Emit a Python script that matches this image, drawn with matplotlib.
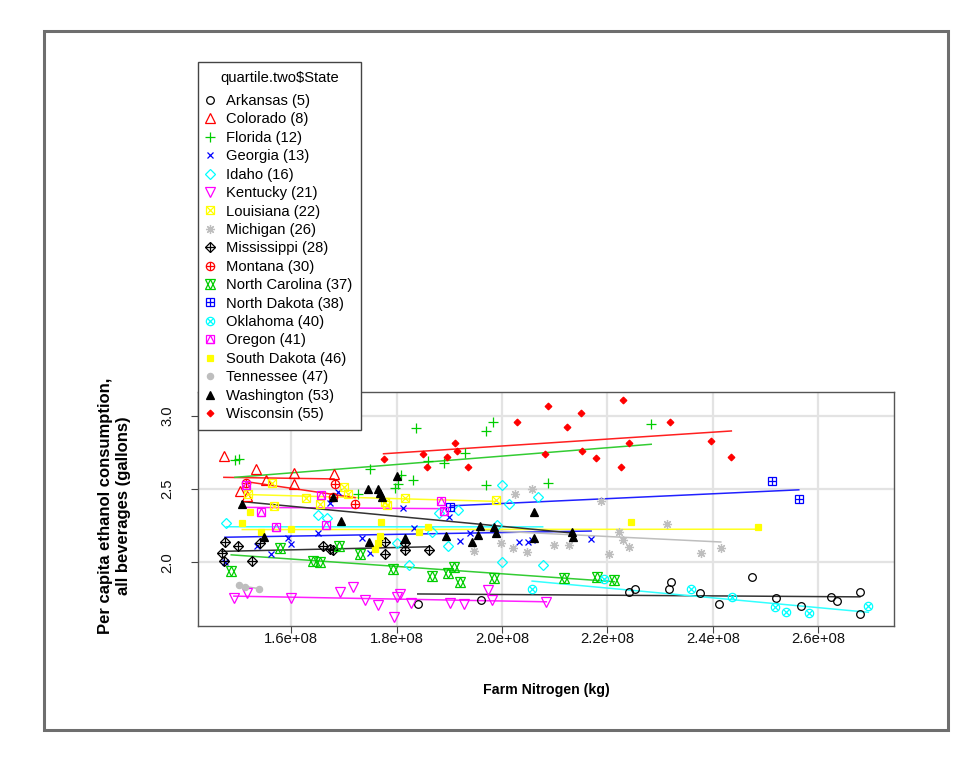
import numpy as np
import matplotlib
matplotlib.use('Agg')
import matplotlib.pyplot as plt
from matplotlib.patches import Rectangle

plt.rcParams['font.family'] = ['Liberation Sans', 'DejaVu Sans']

# ---------------- data (x in units of 1e8 kg, y in gallons) ----------------
states = ['Arkansas', 'Colorado', 'Florida', 'Georgia', 'Idaho', 'Kentucky',
          'Louisiana', 'Michigan', 'Mississippi', 'Montana', 'North Carolina',
          'North Dakota', 'Oklahoma', 'Oregon', 'South Dakota', 'Tennessee',
          'Washington', 'Wisconsin']
codes = [5, 8, 12, 13, 16, 21, 22, 26, 28, 30, 37, 38, 40, 41, 46, 47, 53, 55]

ark_x = [1.840, 1.960, 2.241, 2.252, 2.317, 2.320, 2.376, 2.411, 2.475, 2.520,
         2.567, 2.624, 2.636, 2.679, 2.679]
ark_y = [1.715, 1.742, 1.797, 1.816, 1.821, 1.865, 1.790, 1.715, 1.903, 1.753,
         1.700, 1.760, 1.734, 1.799, 1.650]

col_x = [1.472, 1.533, 1.605, 1.606, 1.552, 1.503, 1.516, 1.681]
col_y = [2.726, 2.637, 2.610, 2.535, 2.559, 2.487, 2.453, 2.600]

fla_x = [1.493, 1.500, 1.727, 1.749, 1.797, 1.803, 1.808, 1.830, 1.836, 1.860,
         1.889, 1.930, 1.969, 1.970, 1.983, 2.087, 2.283]
fla_y = [2.699, 2.709, 2.467, 2.636, 2.508, 2.535, 2.596, 2.562, 2.919, 2.689,
         2.676, 2.745, 2.899, 2.528, 2.960, 2.544, 2.948]

geo_x = [1.474, 1.535, 1.561, 1.594, 1.600, 1.650, 1.673, 1.689, 1.734, 1.749,
         1.812, 1.832, 1.899, 1.921, 1.939, 2.032, 2.049, 2.057, 2.169]
geo_y = [2.002, 2.108, 2.060, 2.166, 2.122, 2.198, 2.405, 2.482, 2.166, 2.061,
         2.371, 2.236, 2.311, 2.143, 2.200, 2.137, 2.141, 2.149, 2.159]

ida_x = [1.477, 1.650, 1.667, 1.800, 1.823, 1.867, 1.880, 1.897, 1.917, 1.990,
         1.999, 2.013, 1.999, 2.069, 2.077]
ida_y = [2.266, 2.323, 2.306, 2.130, 1.984, 2.207, 2.337, 2.111, 2.357, 2.255,
         2.531, 2.400, 2.004, 2.446, 1.980]

ken_x = [1.491, 1.515, 1.599, 1.693, 1.717, 1.740, 1.764, 1.795, 1.806, 1.800,
         1.828, 1.902, 1.927, 1.973, 1.981, 2.084]
ken_y = [1.756, 1.788, 1.756, 1.799, 1.831, 1.740, 1.705, 1.626, 1.783, 1.763,
         1.722, 1.720, 1.715, 1.814, 1.742, 1.732]

lou_x = [1.518, 1.564, 1.567, 1.628, 1.654, 1.700, 1.708, 1.777, 1.782, 1.816,
         1.988]
lou_y = [2.467, 2.545, 2.383, 2.437, 2.398, 2.516, 2.468, 2.415, 2.393, 2.441,
         2.428]

mic_x = [1.946, 1.997, 2.020, 2.024, 2.048, 2.056, 2.099, 2.127, 2.187, 2.202,
         2.222, 2.229, 2.240, 2.313, 2.377, 2.415]
mic_y = [2.077, 2.130, 2.096, 2.468, 2.070, 2.503, 2.118, 2.118, 2.417, 2.057,
         2.208, 2.149, 2.107, 2.263, 2.061, 2.100]

mis_x = [1.468, 1.473, 1.475, 1.498, 1.525, 1.541, 1.661, 1.673, 1.680, 1.778,
         1.777, 1.815, 1.815, 1.861]
mis_y = [2.061, 2.008, 2.137, 2.111, 2.008, 2.130, 2.111, 2.091, 2.084, 2.139,
         2.057, 2.135, 2.084, 2.087]

mon_x = [1.514, 1.683, 1.680, 1.721]
mon_y = [2.542, 2.533, 2.443, 2.400]

nca_x = [1.486, 1.579, 1.642, 1.654, 1.691, 1.730, 1.793, 1.867, 1.898, 1.908,
         1.920, 1.984, 2.118, 2.180, 2.213]
nca_y = [1.939, 2.096, 2.012, 2.005, 2.113, 2.060, 1.956, 1.904, 1.925, 1.970,
         1.864, 1.893, 1.893, 1.902, 1.879]

nda_x = [1.902, 2.512, 2.563]
nda_y = [2.380, 2.557, 2.430]

okl_x = [2.057, 2.194, 2.358, 2.437, 2.517, 2.539, 2.583, 2.695]
okl_y = [1.818, 1.886, 1.818, 1.765, 1.693, 1.663, 1.652, 1.702]

ore_x = [1.514, 1.542, 1.570, 1.657, 1.665, 1.885, 1.889]
ore_y = [2.528, 2.346, 2.241, 2.462, 2.255, 2.421, 2.347]

sda_x = [1.507, 1.521, 1.542, 1.599, 1.759, 1.764, 1.769, 1.770, 1.842, 1.860,
         2.244, 2.486]
sda_y = [2.266, 2.346, 2.207, 2.225, 2.093, 2.135, 2.180, 2.272, 2.207, 2.243,
         2.275, 2.243]

ten_x = [1.501, 1.512, 1.539]
ten_y = [1.843, 1.831, 1.821]

was_x = [1.506, 1.548, 1.680, 1.695, 1.746, 1.765, 1.769, 1.772, 1.800, 1.748,
         1.816, 1.894, 1.942, 1.955, 1.958, 1.985, 1.988, 2.060, 2.061, 2.133,
         2.135]
was_y = [2.398, 2.175, 2.443, 2.282, 2.499, 2.501, 2.471, 2.449, 2.589, 2.142,
         2.166, 2.180, 2.139, 2.189, 2.248, 2.243, 2.198, 2.342, 2.168, 2.207,
         2.173]

wis_x = [1.775, 1.850, 1.858, 1.896, 1.910, 1.914, 1.936, 2.029, 2.082, 2.088,
         2.124, 2.150, 2.151, 2.178, 2.230, 2.225, 2.241, 2.318, 2.396, 2.435]
wis_y = [2.709, 2.743, 2.651, 2.721, 2.813, 2.760, 2.649, 2.960, 2.742, 3.070,
         2.921, 3.018, 2.760, 2.710, 3.109, 2.651, 2.813, 2.960, 2.831, 2.719]

xs = [ark_x, col_x, fla_x, geo_x, ida_x, ken_x, lou_x, mic_x, mis_x, mon_x,
      nca_x, nda_x, okl_x, ore_x, sda_x, ten_x, was_x, wis_x]
ys = [ark_y, col_y, fla_y, geo_y, ida_y, ken_y, lou_y, mic_y, mis_y, mon_y,
      nca_y, nda_y, okl_y, ore_y, sda_y, ten_y, was_y, wis_y]

x_ticks = [1.6, 1.8, 2.0, 2.2, 2.4, 2.6]
x_ticklabels = ['1.6e+08', '1.8e+08', '2.0e+08', '2.2e+08', '2.4e+08', '2.6e+08']
y_ticks = [2.0, 2.5, 3.0]
y_ticklabels = ['2.0', '2.5', '3.0']

# ---------------- styles ----------------
palette = ['#000000', '#FF0000', '#00CD00', '#0000FF', '#00FFFF', '#FF00FF',
           '#FFFF00', '#BEBEBE']
line_palette = ['#333333', '#FF2020', '#33CC33', '#2020FF', '#33FFFF', '#FF20FF',
                '#FFFF20', '#BEBEBE']

# each R pch as list of (marker, size, filled)
pch = [
    [('o', 5.5, False)],                      # 1
    [('^', 6.5, False)],                      # 2
    [('+', 7.0, False)],                      # 3
    [('x', 5.0, False)],                      # 4
    [('D', 5.0, False)],                      # 5
    [('v', 6.5, False)],                      # 6
    [('s', 5.8, False), ('x', 5.2, False)],   # 7
    [((8, 2, 0), 6.5, False)],                # 8
    [('D', 4.6, False), ('+', 6.5, False)],   # 9
    [('o', 6.0, False), ('+', 6.0, False)],   # 10
    [('^', 6.5, False), ('v', 6.5, False)],   # 11
    [('s', 5.5, False), ('+', 5.5, False)],   # 12
    [('o', 6.0, False), ('x', 4.2, False)],   # 13
    [('s', 5.8, False), ('^', 5.8, False)],   # 14
    [('s', 5.0, True)],                       # 15
    [('o', 4.5, True)],                       # 16
    [('^', 6.0, True)],                       # 17
    [('D', 3.4, True)],                       # 18
]

W, H = 977, 766
fig = plt.figure(figsize=(W / 100, H / 100), dpi=100)
fig.patch.set_facecolor('white')

# outer frame
fig.patches.append(Rectangle((43.5 / W, 1 - 730 / H), (948 - 43.5) / W, (730 - 30.5) / H,
                             transform=fig.transFigure, fill=False,
                             edgecolor='#6e6e6e', linewidth=2.2))

ax = fig.add_axes([198.3 / W, 1 - 625.5 / H, (894 - 198.3) / W, (625.5 - 391.7) / H])
ax.set_xlim(1.4235, 2.7437)
ax.set_ylim(1.5683, 3.1653)
ax.set_xticks(x_ticks)
ax.set_xticklabels(x_ticklabels)
ax.set_yticks(y_ticks)
ax.set_yticklabels(y_ticklabels, rotation=90, va='center')
ax.grid(True, color='#e3e3e3', linewidth=1.6, zorder=0)
ax.set_axisbelow(True)
for sp in ax.spines.values():
    sp.set_color('#555555')
    sp.set_linewidth(1.0)
ax.tick_params(direction='out', length=5, width=0.8, color='#444444',
               labelsize=10.6, labelcolor='#111111')
ax.tick_params(axis='x', pad=0)
ax.tick_params(axis='y', pad=12)

handles = []
labels = []
for i, (x, y) in enumerate(zip(xs, ys)):
    c = palette[i % 8]
    parts = []
    for mk, ms, filled in pch[i]:
        ln, = ax.plot(x, y, linestyle='none', marker=mk, markersize=ms,
                      markerfacecolor=c if filled else 'none',
                      markeredgecolor=c, markeredgewidth=0.9, zorder=3)
        parts.append(ln)
    handles.append(tuple(parts))
    labels.append(f'{states[i]} ({codes[i]})')
    xa = np.asarray(x)
    ya = np.asarray(y)
    b, a = np.polyfit(xa, ya, 1)
    xl = np.array([xa.min(), xa.max()])
    ax.plot(xl, a + b * xl, color=line_palette[i % 8], linewidth=1.1, zorder=2)

leg = fig.legend(handles, labels, title='quartile.two\\$State',
                 loc='upper left', bbox_to_anchor=(198.3 / W, 1 - 62.3 / H),
                 bbox_transform=fig.transFigure, borderaxespad=0,
                 fontsize=10.6, title_fontsize=10.6, frameon=True,
                 fancybox=False, framealpha=1, edgecolor='#444444',
                 handlelength=0.4, handletextpad=0.88, borderpad=0.6,
                 labelspacing=0.3, alignment='center')
leg.get_frame().set_linewidth(1.0)
leg._legend_box.sep = 6.4
leg.set_zorder(10)

fig.text(546 / W, 1 - 690 / H, 'Farm Nitrogen (kg)', ha='center', va='center',
         fontsize=10.2, fontweight='bold')
fig.text(114.5 / W, 1 - 506 / H,
         'Per capita ethanol consumption,\nall beverages (gallons)',
         ha='center', va='center', rotation=90, fontsize=12,
         fontweight='bold', linespacing=1.2, multialignment='center')

fig.savefig('out.png', dpi=100)
